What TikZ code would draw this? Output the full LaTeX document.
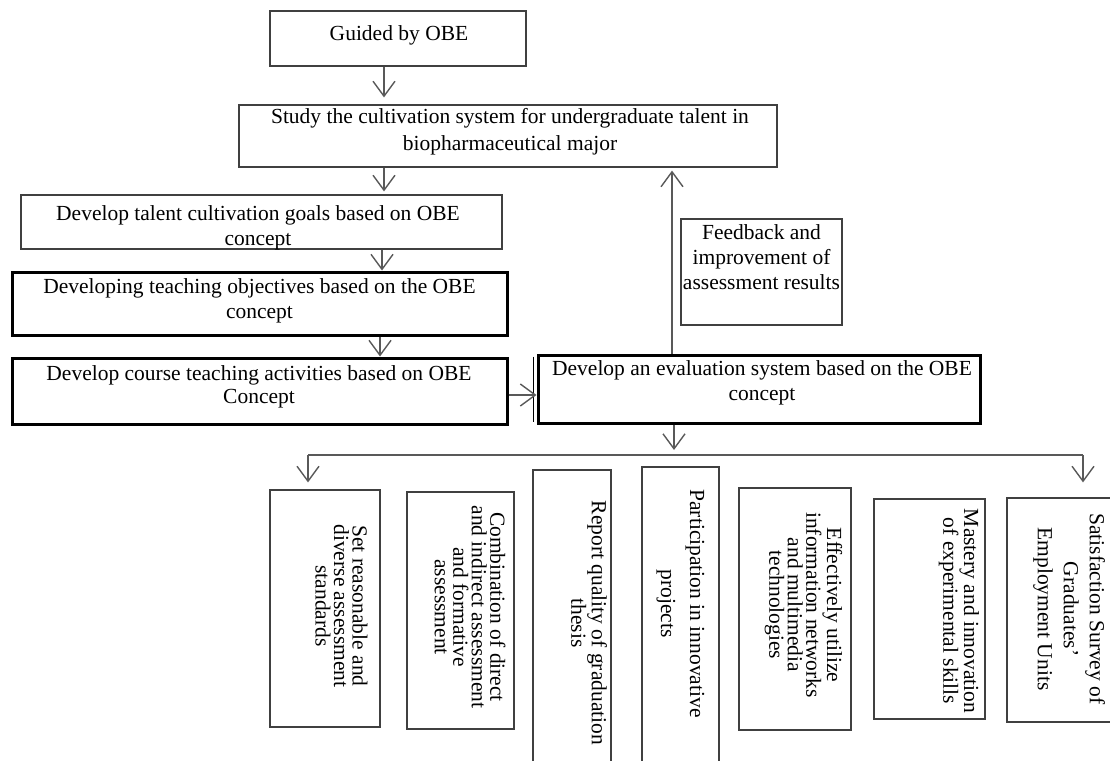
\documentclass[tikz,border=0pt]{standalone}
\usepackage{fontspec}
\setmainfont{Liberation Serif}
\usetikzlibrary{arrows.meta}

\begin{document}
\begin{tikzpicture}[x=1pt,y=-1pt,
  box/.style={draw=black!75, line width=1.2pt, inner sep=0pt},
  boldbox/.style={draw=black, line width=3pt, inner sep=0pt},
  lbl/.style={align=center, inner sep=0pt, font=\fontsize{21.5}{25}\selectfont},
  vlbl/.style={align=center, inner sep=0pt, rotate=-90, font=\fontsize{21.5}{18.5}\selectfont},
  link/.style={draw=black!65, line width=1.4pt},
  arr/.style={link, -{Straight Barb[length=15pt,width=22pt]}}]
\useasboundingbox (0,0) rectangle (1110,760);
\clip (0,0) rectangle (1110,760);
% upper chain
\node[box, minimum width=256pt, minimum height=55pt] (guided) at (398,38.5) {};
\node[lbl] (guidedT) at (399,35) {Guided by OBE};
\node[box, minimum width=538pt, minimum height=62pt] (study) at (508,136) {};
\node[lbl, font=\fontsize{21.5}{27}\selectfont] (studyT) at (510,131.5) {Study the cultivation system for undergraduate talent in\\biopharmaceutical major};
\node[box, minimum width=481pt, minimum height=54pt] (goals) at (261.5,222) {};
\node[lbl] (goalsT) at (258,227.5) {Develop talent cultivation goals based on OBE\\concept};
\node[boldbox, minimum width=495pt, minimum height=63pt] (obj) at (259.5,303.5) {};
\node[lbl] (objT) at (259.5,300.5) {Developing teaching objectives based on the OBE\\concept};
\node[boldbox, minimum width=495pt, minimum height=66pt] (course) at (259.5,391) {};
\node[lbl, font=\fontsize{21.5}{23}\selectfont] (courseT) at (259,386.5) {Develop course teaching activities based on OBE\\Concept};
% evaluation and feedback
\node[boldbox, minimum width=442pt, minimum height=68pt] (eval) at (759,389) {};
\draw[black, line width=1pt] ([xshift=-3pt,yshift=-3pt]eval.north west) -- ([xshift=-3pt,yshift=3pt]eval.south west);
\node[lbl] (evalT) at (762,382.5) {Develop an evaluation system based on the OBE\\concept};
\node[box, minimum width=161pt, minimum height=106pt] (feed) at (761.5,272) {};
\node[lbl] (feedT) at (761.5,257.5) {Feedback and\\improvement of\\assessment results};
% connectors
\coordinate (c1) at (384,0);
\coordinate (c2) at (382,0);
\coordinate (c3) at (380,0);
\coordinate (c4) at (0,395);
\coordinate (c5) at (672,0);
\coordinate (c6) at (674,0);
\coordinate (evdown) at (674,450);
\draw[arr, shorten >=7pt] (guided.south -| c1) -- (study.north -| c1);
\draw[arr, shorten >=3pt] (study.south -| c1) -- (goals.north -| c1);
\draw[arr] (goals.south -| c2) -- (obj.north -| c2);
\draw[arr] (obj.south -| c3) -- (course.north -| c3);
\draw[arr] (course.east |- c4) -- (eval.west |- c4);
\draw[arr, shorten >=3pt] (eval.north -| c5) -- (study.south -| c5);
\draw[arr] (eval.south -| c6) -- (evdown);
% assessment items
\node[box, minimum width=110pt, minimum height=237pt] (set) at (325,608.5) {};
\node[vlbl] (setT) at (341.5,606) {Set reasonable and\\diverse assessment\\standards};
\node[box, minimum width=107pt, minimum height=237pt] (comb) at (460.5,610.5) {};
\node[vlbl] (combT) at (470,607) {Combination of direct\\and indirect assessment\\and formative\\assessment};
\node[box, minimum width=78pt, minimum height=330pt] (thesis) at (572,635) {};
\node[vlbl] (thesisT) at (589,623) {Report quality of graduation\\thesis};
\node[box, minimum width=77pt, minimum height=333pt] (proj) at (680.5,633.5) {};
\node[vlbl, font=\fontsize{21.5}{29}\selectfont] (projT) at (680.5,603.5) {Participation in innovative\\projects};
\node[box, minimum width=112pt, minimum height=242pt] (media) at (795,609) {};
\node[vlbl] (mediaT) at (803.5,605) {Effectively utilize\\information networks\\and multimedia\\technologies};
\node[box, minimum width=111pt, minimum height=220pt] (skill) at (929.5,609) {};
\node[vlbl] (skillT) at (959,611) {Mastery and innovation\\of experimental skills};
\node[box, minimum width=118pt, minimum height=224pt] (satis) at (1066,610) {};
\node[vlbl, font=\fontsize{21.5}{26}\selectfont] (satisT) at (1069,609) {Satisfaction Survey of\\Graduates'\\Employment Units};
% distribution line
\coordinate (busL) at (308,455);
\coordinate (busR) at (1083,455);
\draw[link] (busL) -- (busR);
\draw[arr, shorten >=7pt] (busL) -- (set.north -| busL);
\draw[arr, shorten >=15pt] (busR) -- (satis.north -| busR);
\end{tikzpicture}
\end{document}
